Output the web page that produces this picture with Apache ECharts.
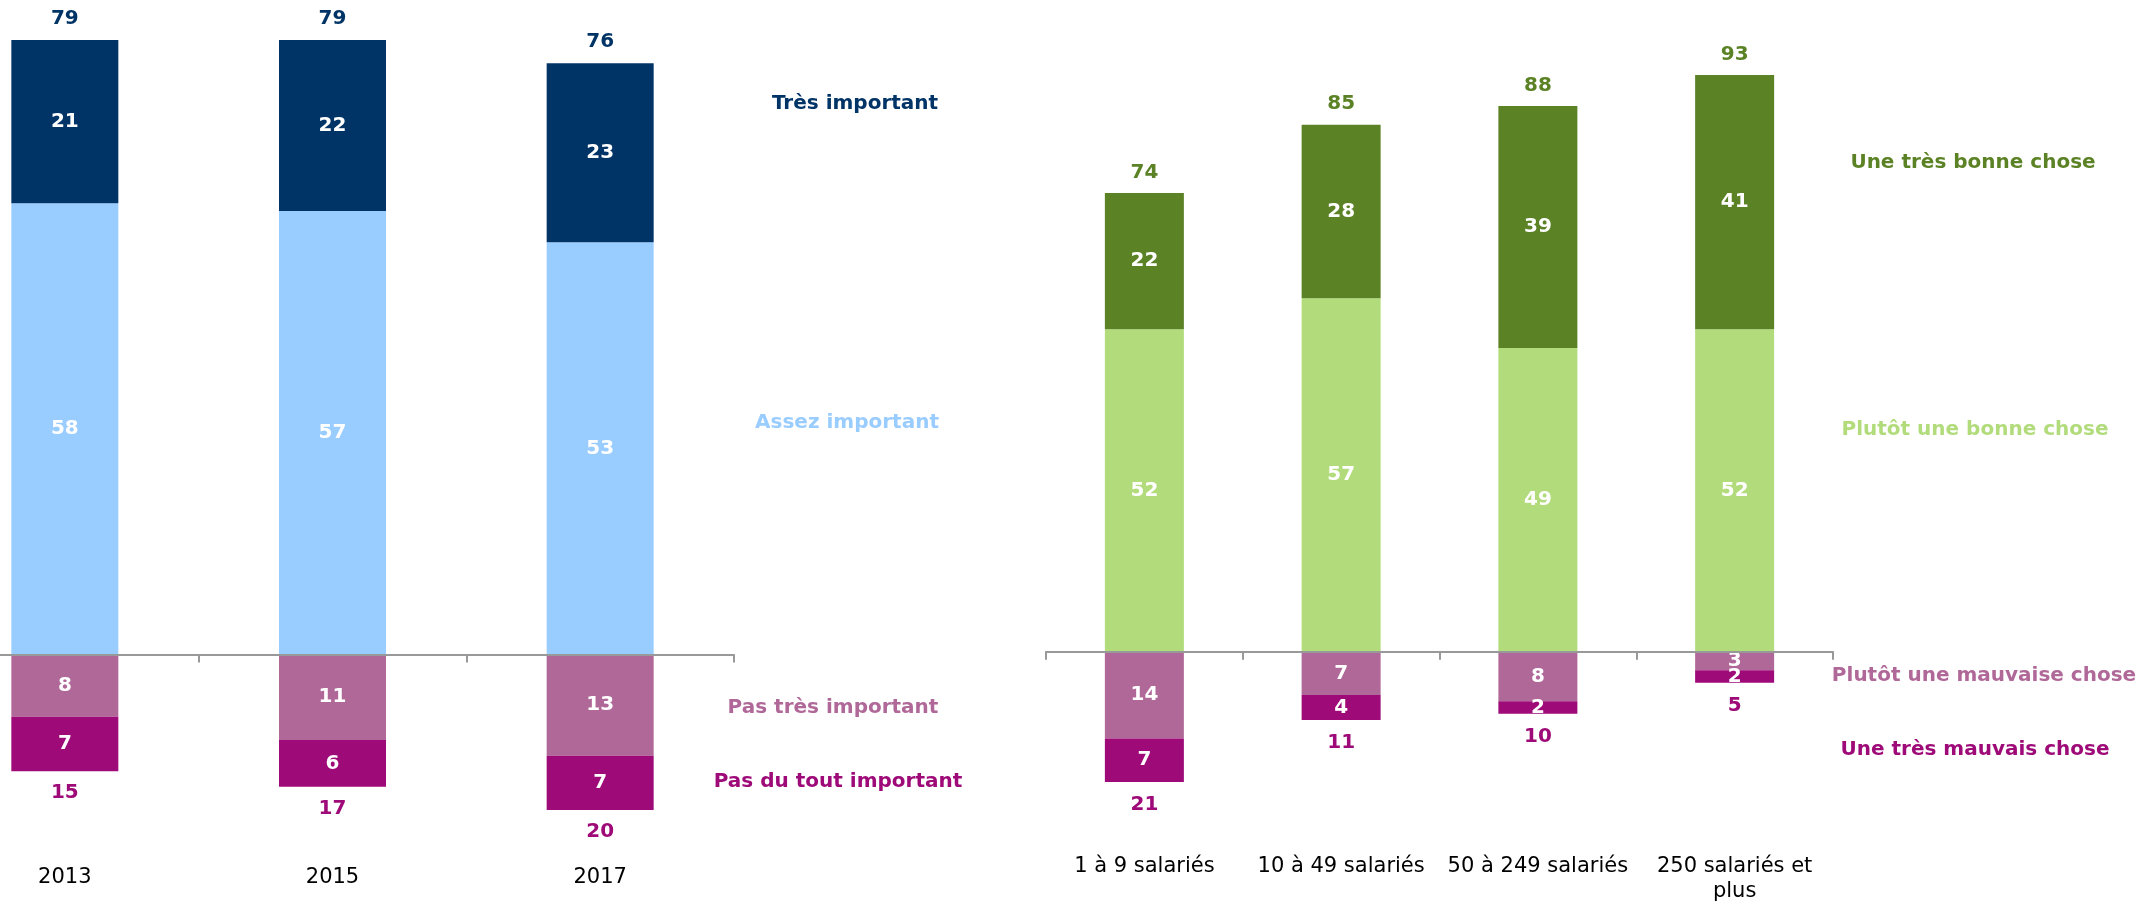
<!DOCTYPE html>
<html>
<head>
<meta charset="utf-8">
<script src="https://cdn.jsdelivr.net/npm/echarts@6/dist/echarts.min.js"></script>
<style>
html,body{margin:0;padding:0;background:#fff;}
#chart{width:2145px;height:901px;}
</style>
</head>
<body>
<div id="chart"></div>
<script>
// ---- Left chart data ----
const leftCats = ['2013', '2015', '2017'];
const leftTres = [21, 22, 23];
const leftAssez = [58, 57, 53];
const leftPasTres = [-8, -11, -13];
const leftPasDuTout = [-7, -6, -7];
const leftTotalPos = [79, 79, 76];
const leftTotalNeg = [-15, -17, -20];
const leftNames = ['Très important', 'Assez important', 'Pas très important', 'Pas du tout important'];

// ---- Right chart data ----
const rightCats = ['1 à 9 salariés', '10 à 49 salariés', '50 à 249 salariés', '250 salariés et\nplus'];
const rightTresBonne = [22, 28, 39, 41];
const rightPlutotBonne = [52, 57, 49, 52];
const rightPlutotMauvaise = [-14, -7, -8, -3];
const rightTresMauvaise = [-7, -4, -2, -2];
const rightTotalPos = [74, 85, 88, 93];
const rightTotalNeg = [-21, -11, -10, -5];
const rightNames = ['Une très bonne chose', 'Plutôt une bonne chose', 'Plutôt une mauvaise chose', 'Une très mauvais chose'];

const NAVY = '#003366', LBLUE = '#99CCFF', MAUVE = '#B06898', MAGENTA = '#9E0A78';
const DGREEN = '#5C8226', LGREEN = '#B2DC7C';
const FONT = 'DejaVu Sans';

const chart = echarts.init(document.getElementById('chart'), null, {renderer: 'canvas'});

function seg(name, data, color, xi, bw) {
  return {
    name: name, type: 'bar', stack: 's' + xi, xAxisIndex: xi, yAxisIndex: xi,
    data: data, barWidth: bw, barGap: '-100%',
    itemStyle: {color: color},
    label: {show: true, position: 'inside', color: '#fff', fontFamily: FONT, fontWeight: 'bold', fontSize: 20,
      formatter: p => Math.abs(p.value)},
    emphasis: {disabled: true}
  };
}
function tot(data, color, xi, bw, pos, dist) {
  return {
    type: 'bar', xAxisIndex: xi, yAxisIndex: xi, data: data, barWidth: bw, barGap: '-100%',
    itemStyle: {color: 'rgba(0,0,0,0)'}, z: 1,
    label: {show: true, position: pos, distance: dist, color: color, fontFamily: FONT, fontWeight: 'bold', fontSize: 20,
      formatter: p => Math.abs(p.value)},
    emphasis: {disabled: true}, silent: true
  };
}
// axis drawn at zero (line + ticks only)
function xAxZero(gi, cats) {
  return {
    type: 'category', gridIndex: gi, data: cats, z: 10, position: 'bottom',
    axisLine: {show: true, onZero: true, lineStyle: {color: '#999', width: 2}},
    axisTick: {show: true, length: 8, lineStyle: {color: '#999', width: 2}, interval: 0},
    axisLabel: {show: false}
  };
}
// axis at the grid bottom carrying only the category labels
function xAxLabels(gi, cats, margin) {
  return {
    type: 'category', gridIndex: gi, data: cats, position: 'bottom',
    axisLine: {show: false, onZero: false}, axisTick: {show: false},
    axisLabel: {interval: 0, margin: margin, color: '#000', fontFamily: FONT, fontSize: 21, lineHeight: 25}
  };
}
function yAx(gi, min, max) {
  return {type: 'value', gridIndex: gi, min: min, max: max, show: false, splitLine: {show: false}};
}
function txt(s, x, y, color) {
  return {type: 'text', x: x, y: y, style: {text: s, fill: color, font: 'bold 20px "' + FONT + '"', textAlign: 'center', textVerticalAlign: 'middle'}};
}

// left: 7.78 px per unit, zero at y=654.5 ; right: 6.2 px per unit, zero at y=651.7
const option = {
  animation: false,
  grid: [
    {left: -69, top: 32.1, width: 803, height: 816.9, containLabel: false, outerBoundsMode: 'none'},
    {left: 1046, top: 31.7, width: 787, height: 775, containLabel: false, outerBoundsMode: 'none'}
  ],
  xAxis: [xAxZero(0, leftCats), xAxZero(1, rightCats), xAxLabels(0, leftCats, 16), xAxLabels(1, rightCats, 47.5)],
  yAxis: [yAx(0, -25, 80), yAx(1, -25, 100)],
  series: [
    seg(leftNames[1], leftAssez, LBLUE, 0, 107),
    seg(leftNames[0], leftTres, NAVY, 0, 107),
    seg(leftNames[2], leftPasTres, MAUVE, 0, 107),
    seg(leftNames[3], leftPasDuTout, MAGENTA, 0, 107),
    tot(leftTotalPos, NAVY, 0, 107, 'top', 11),
    tot(leftTotalNeg, MAGENTA, 0, 107, 'bottom', 12),
    seg(rightNames[1], rightPlutotBonne, LGREEN, 1, 79),
    seg(rightNames[0], rightTresBonne, DGREEN, 1, 79),
    seg(rightNames[2], rightPlutotMauvaise, MAUVE, 1, 79),
    seg(rightNames[3], rightTresMauvaise, MAGENTA, 1, 79),
    tot(rightTotalPos, DGREEN, 1, 79, 'top', 10.5),
    tot(rightTotalNeg, MAGENTA, 1, 79, 'bottom', 13)
  ],
  graphic: [
    txt(leftNames[0], 855, 104, NAVY),
    txt(leftNames[1], 847, 423, LBLUE),
    txt(leftNames[2], 833, 708, MAUVE),
    txt(leftNames[3], 838, 782, MAGENTA),
    txt(rightNames[0], 1973, 163, DGREEN),
    txt(rightNames[1], 1975, 430, LGREEN),
    txt(rightNames[2], 1984, 676, MAUVE),
    txt(rightNames[3], 1975, 750, MAGENTA)
  ]
};
chart.setOption(option);
</script>
</body>
</html>
